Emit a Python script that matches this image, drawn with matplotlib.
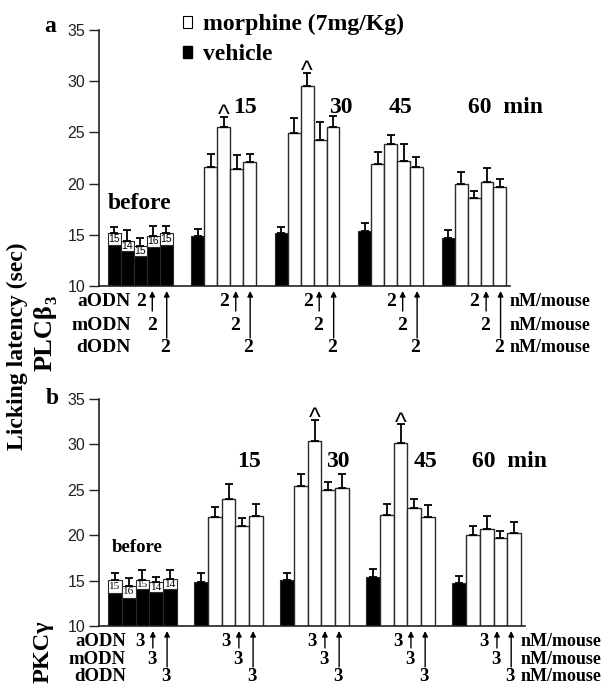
import matplotlib
matplotlib.use('Agg')
import matplotlib.pyplot as plt
from matplotlib.patches import Patch

W, H = 609, 689

plt.rcParams['font.family'] = ['Liberation Sans', 'DejaVu Sans']
SERIF = ['Liberation Serif', 'DejaVu Serif']
SANS = ['Liberation Sans', 'DejaVu Sans']

time_labels = ['15', '30', '45', '60  min']
odn_names = ['aODN', 'mODN', 'dODN']

# ---- panel a : PLCb3 ----
a_before_black = [14.0, 13.4, 12.9, 13.8, 14.0]
a_before_total = [15.15, 14.43, 13.9, 14.9, 15.15]
a_before_err = [0.65, 1.04, 0.76, 1.0, 0.75]
a_before_n = ['15', '14', '15', '16', '15']
a_vehicle = [14.9, 15.15, 15.37, 14.66]
a_vehicle_err = [0.67, 0.65, 0.83, 0.81]
a_morphine = [[21.58, 25.55, 21.4, 22.1],
              [24.97, 29.53, 24.3, 25.55],
              [21.9, 23.86, 22.2, 21.64],
              [19.97, 18.63, 20.2, 19.64]]
a_morphine_err = [[1.32, 0.95, 1.4, 0.8],
                  [1.43, 1.27, 1.74, 1.05],
                  [1.2, 0.88, 1.66, 0.96],
                  [1.2, 0.67, 1.3, 0.82]]
a_marked = [(0, 1), (1, 1)]   # (time group, morphine bar) with ^
a_dose = '2'

# ---- panel b : PKCgamma ----
b_before_black = [13.67, 13.05, 14.04, 13.7, 14.04]
b_before_total = [15.07, 14.44, 15.07, 14.8, 15.18]
b_before_err = [0.8, 0.85, 1.1, 0.63, 0.99]
b_before_n = ['15', '16', '15', '14', '14']
b_vehicle = [14.88, 15.07, 15.36, 14.7]
b_vehicle_err = [0.99, 0.8, 0.88, 0.84]
b_morphine = [[22.04, 23.95, 21.05, 22.15],
              [25.42, 30.41, 24.98, 25.23],
              [22.22, 30.12, 22.96, 22.04],
              [19.99, 20.68, 19.65, 20.28]]
b_morphine_err = [[1.03, 1.65, 0.81, 1.29],
                  [1.32, 2.28, 0.92, 1.51],
                  [1.22, 2.08, 0.99, 1.29],
                  [1.02, 1.43, 0.85, 1.21]]
b_marked = [(1, 1), (2, 1)]
b_dose = '3'

EDGE = '#2a2a2a'


def px_rect(l, t, r, b):
    return [l / W, 1 - b / H, (r - l) / W, (b - t) / H]


def draw_panel(ax, before_black, before_total, before_err, before_n,
               vehicle, vehicle_err, morphine, morphine_err, marked,
               pitch, xlim, n_font, n_family):
    # before group: black bar with a white cap holding n
    xs = [i + 0.5 for i in range(5)]
    ax.bar(xs, before_black, width=1, color='black', edgecolor=EDGE, linewidth=0.8)
    caps = [t - b for t, b in zip(before_total, before_black)]
    ax.bar(xs, caps, bottom=before_black, width=1, color='white', edgecolor=EDGE, linewidth=0.8)
    ax.errorbar(xs, before_total, yerr=[[0] * 5, before_err], fmt='none',
                ecolor='black', elinewidth=1.3, capsize=3, capthick=1.3, zorder=3)
    for x, b, t, n in zip(xs, before_black, before_total, before_n):
        ax.text(x, (b + t) / 2, n, ha='center', va='center', fontsize=n_font,
                family=n_family, zorder=4)

    for g in range(4):
        s = (g + 1) * pitch
        ax.bar(s + 0.5, vehicle[g], width=1, color='black', edgecolor=EDGE, linewidth=0.8)
        ax.errorbar([s + 0.5], [vehicle[g]], yerr=[[0], [vehicle_err[g]]], fmt='none',
                    ecolor='black', elinewidth=1.3, capsize=3, capthick=1.3, zorder=3)
        mx = [s + 1.5 + i for i in range(4)]
        ax.bar(mx, morphine[g], width=1, color='white', edgecolor=EDGE, linewidth=1.0)
        ax.errorbar(mx, morphine[g], yerr=[[0] * 4, morphine_err[g]], fmt='none',
                    ecolor='black', elinewidth=1.3, capsize=3, capthick=1.3, zorder=3)

    for g, i in marked:
        s = (g + 1) * pitch
        top = morphine[g][i] + morphine_err[g][i]
        ax.annotate('^', xy=(s + 1.5 + i, top), xytext=(0, -4.5),
                    textcoords='offset points', ha='center', va='baseline',
                    fontsize=18, family=SANS)

    ax.set_xlim(*xlim)
    ax.set_ylim(10, 35)
    ax.set_yticks(range(10, 36, 5))
    ax.set_xticks([])
    for sp in ['top', 'right']:
        ax.spines[sp].set_visible(False)
    for sp in ['left', 'bottom']:
        ax.spines[sp].set_linewidth(1.2)
        ax.spines[sp].set_color('#222222')
    ax.tick_params(axis='y', direction='out', length=7, width=1, labelsize=11.5,
                   colors='#222222', pad=3)


def odn_rows(fig, ax, pitch, dose, rows_px, arrow_px, num_x, arr_x,
             label_right, unit_left, axis_bottom, row_font):
    ax_h = ax.get_position().height * H
    tr = ax.get_xaxis_transform()
    for g in range(5):
        s = g * pitch
        for r in range(3):
            ax.text(s + num_x[r], -rows_px[r] / ax_h, dose, transform=tr,
                    ha='center', va='center', fontsize=row_font, weight='bold',
                    family=SERIF, clip_on=False)
        for k in range(2):
            ax.annotate('', xy=(s + arr_x[k], -5 / ax_h), xycoords=tr,
                        xytext=(s + arr_x[k], -arrow_px[k] / ax_h), textcoords=tr,
                        arrowprops=dict(arrowstyle='-|>', color='black', lw=1,
                                        mutation_scale=8, shrinkA=0, shrinkB=0),
                        annotation_clip=False)
    for r, name in enumerate(odn_names):
        y = 1 - (axis_bottom + rows_px[r]) / H
        fig.text(label_right / W, y, name, ha='right', va='center', fontsize=row_font,
                 weight='bold', family=SERIF)
        fig.text(unit_left / W, y, 'nM/mouse', ha='left', va='center', fontsize=13,
                 weight='bold', family=SERIF)


fig = plt.figure(figsize=(W / 100, H / 100), dpi=100)
ax_a = fig.add_axes(px_rect(99, 30, 510, 286))
ax_b = fig.add_axes(px_rect(99, 399, 525, 626))

pitch_a, pitch_b = 6.47, 6.23
draw_panel(ax_a, a_before_black, a_before_total, a_before_err, a_before_n,
           a_vehicle, a_vehicle_err, a_morphine, a_morphine_err, a_marked,
           pitch_a, (-0.7, 31.16), 7.5, SANS)
draw_panel(ax_b, b_before_black, b_before_total, b_before_err, b_before_n,
           b_vehicle, b_vehicle_err, b_morphine, b_morphine_err, b_marked,
           pitch_b, (-0.65, 30.2), 8, SERIF)

big = dict(fontsize=17, weight='bold', family=SERIF, ha='center', va='center')
ax_a.text(2.44, 18.1, 'before', **big)
ax_b.text(2.1, 18.6, 'before', fontsize=13.5, weight='bold', family=SERIF,
          ha='center', va='center')
for lab, x in zip(time_labels, [10.6, 18.06, 22.7, 30.78]):
    ax_a.text(x, 27.4, lab, **big)
for lab, x in zip(time_labels, [10.2, 16.65, 22.97, 29.1]):
    ax_b.text(x, 28.1, lab, **big)

odn_rows(fig, ax_a, pitch_a, a_dose, [16, 39, 62], [25, 52],
         [2.53, 3.38, 4.42], [3.43, 4.55], 131, 510, 286, 14)
odn_rows(fig, ax_b, pitch_b, b_dose, [15.5, 33, 50.5], [22, 41],
         [2.3, 3.2, 4.2], [3.25, 4.28], 126, 521, 626, 13.5)

fig.text(50 / W, 1 - 27 / H, 'a', fontsize=17, weight='bold', family=SERIF,
         ha='center', va='center')
fig.text(52 / W, 1 - 399 / H, 'b', fontsize=17, weight='bold', family=SERIF,
         ha='center', va='center')
fig.text(17 / W, 1 - 346 / H, 'Licking latency (sec)', rotation=90, fontsize=17,
         weight='bold', family=SERIF, ha='center', va='center')
# gene labels, rotated; subscript 3 placed just after the beta
plc = fig.text(45 / W, 1 - 371 / H, 'PLCβ', rotation=90, fontsize=19,
               weight='bold', family=SERIF, ha='center', va='bottom')
ax_a.annotate('3', xy=(0.82, 1.0), xycoords=plc, xytext=(0, 0.5),
              textcoords='offset points', rotation=90, fontsize=12,
              weight='bold', family=SERIF, ha='center', va='bottom',
              annotation_clip=False)
fig.text(43 / W, 1 - 652 / H, 'PKCγ', rotation=90, fontsize=17.5,
         weight='bold', family=SERIF, ha='center', va='center')

fig.legend(handles=[Patch(facecolor='white', edgecolor='black', linewidth=0.8),
                    Patch(facecolor='black', edgecolor='black')],
           labels=['morphine (7mg/Kg)', 'vehicle'],
           loc='upper left', bbox_to_anchor=(183 / W, 1 - 14 / H), frameon=False,
           borderpad=0, borderaxespad=0, handlelength=0.4, handleheight=0.4,
           handletextpad=0.45, labelspacing=0.38,
           prop=dict(family=SERIF, weight='bold', size=17))

fig.savefig('out.png', dpi=100)
